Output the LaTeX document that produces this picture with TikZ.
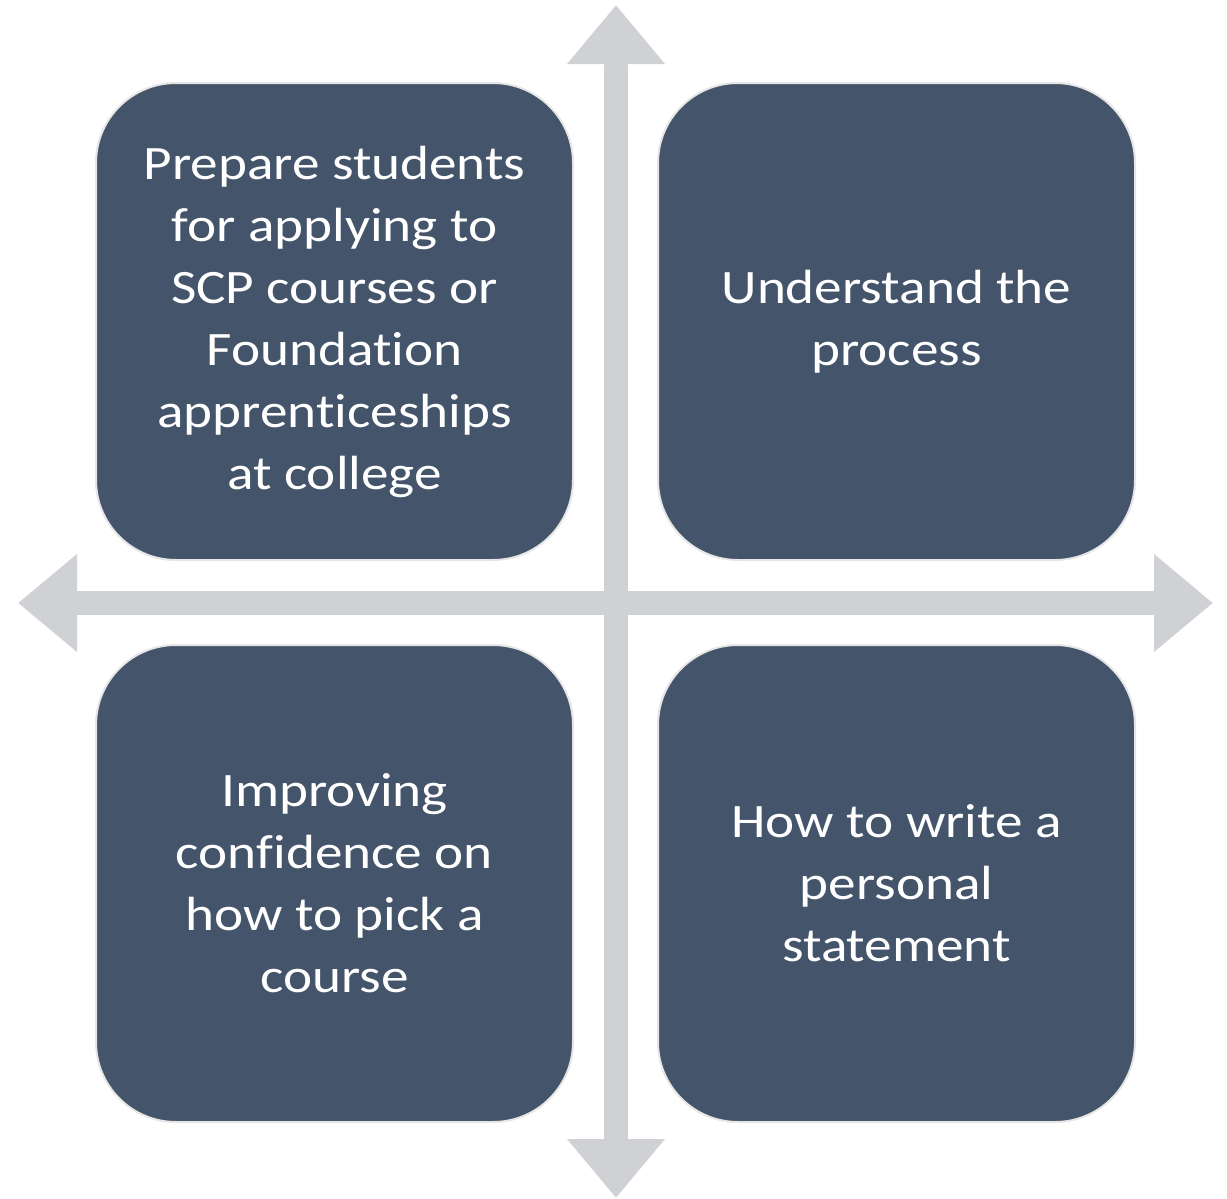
\documentclass[tikz,border=0pt]{standalone}
\usepackage{fontspec}
\setmainfont{Carlito}
\newfontfamily\boxfont[FakeStretch=1.15, Ligatures=CommonOff]{Carlito}
\usetikzlibrary{positioning, arrows.meta}

\definecolor{slate}{HTML}{44546A}
\definecolor{axisgray}{HTML}{D0D1D5}
\definecolor{rimgray}{HTML}{E6E6E6}

\begin{document}
\begin{tikzpicture}[x=0.5pt, y=-0.5pt, node distance=41.5pt,
    box/.style={draw=rimgray, line width=1pt, fill=slate, rounded corners=40pt,
        minimum width=238.5pt, minimum height=238.5pt, align=center,
        text=white, font=\boxfont\fontsize{24}{31}\selectfont},
    axis/.style={draw=axisgray, line width=12pt,
        {Triangle[width=47pt, length=29.5pt]}-{Triangle[width=47pt, length=29.5pt]}}]
    \useasboundingbox (0,0) rectangle (1227,1199);

    % Axis ends
    \coordinate (top) at (616,5);
    \coordinate (bottom) at (616,1198);
    \coordinate (left) at (18,603);
    \coordinate (right) at (1213,603);

    % Crossing arrows
    \draw[axis] (bottom) -- (top);
    \draw[axis] (left) -- (right);

    % The four boxes
    \node[box] (prep) at (334.5,321.5) {Prepare students\\for applying to\\SCP courses or\\Foundation\\apprenticeships\\at college};
    \node[box] (process) [right=of prep] {Understand the\\process};
    \node[box] (confidence) [below=of prep] {Improving\\confidence on\\how to pick a\\course};
    \node[box] (statement) [right=of confidence] {How to write a\\personal\\statement};
\end{tikzpicture}
\end{document}
